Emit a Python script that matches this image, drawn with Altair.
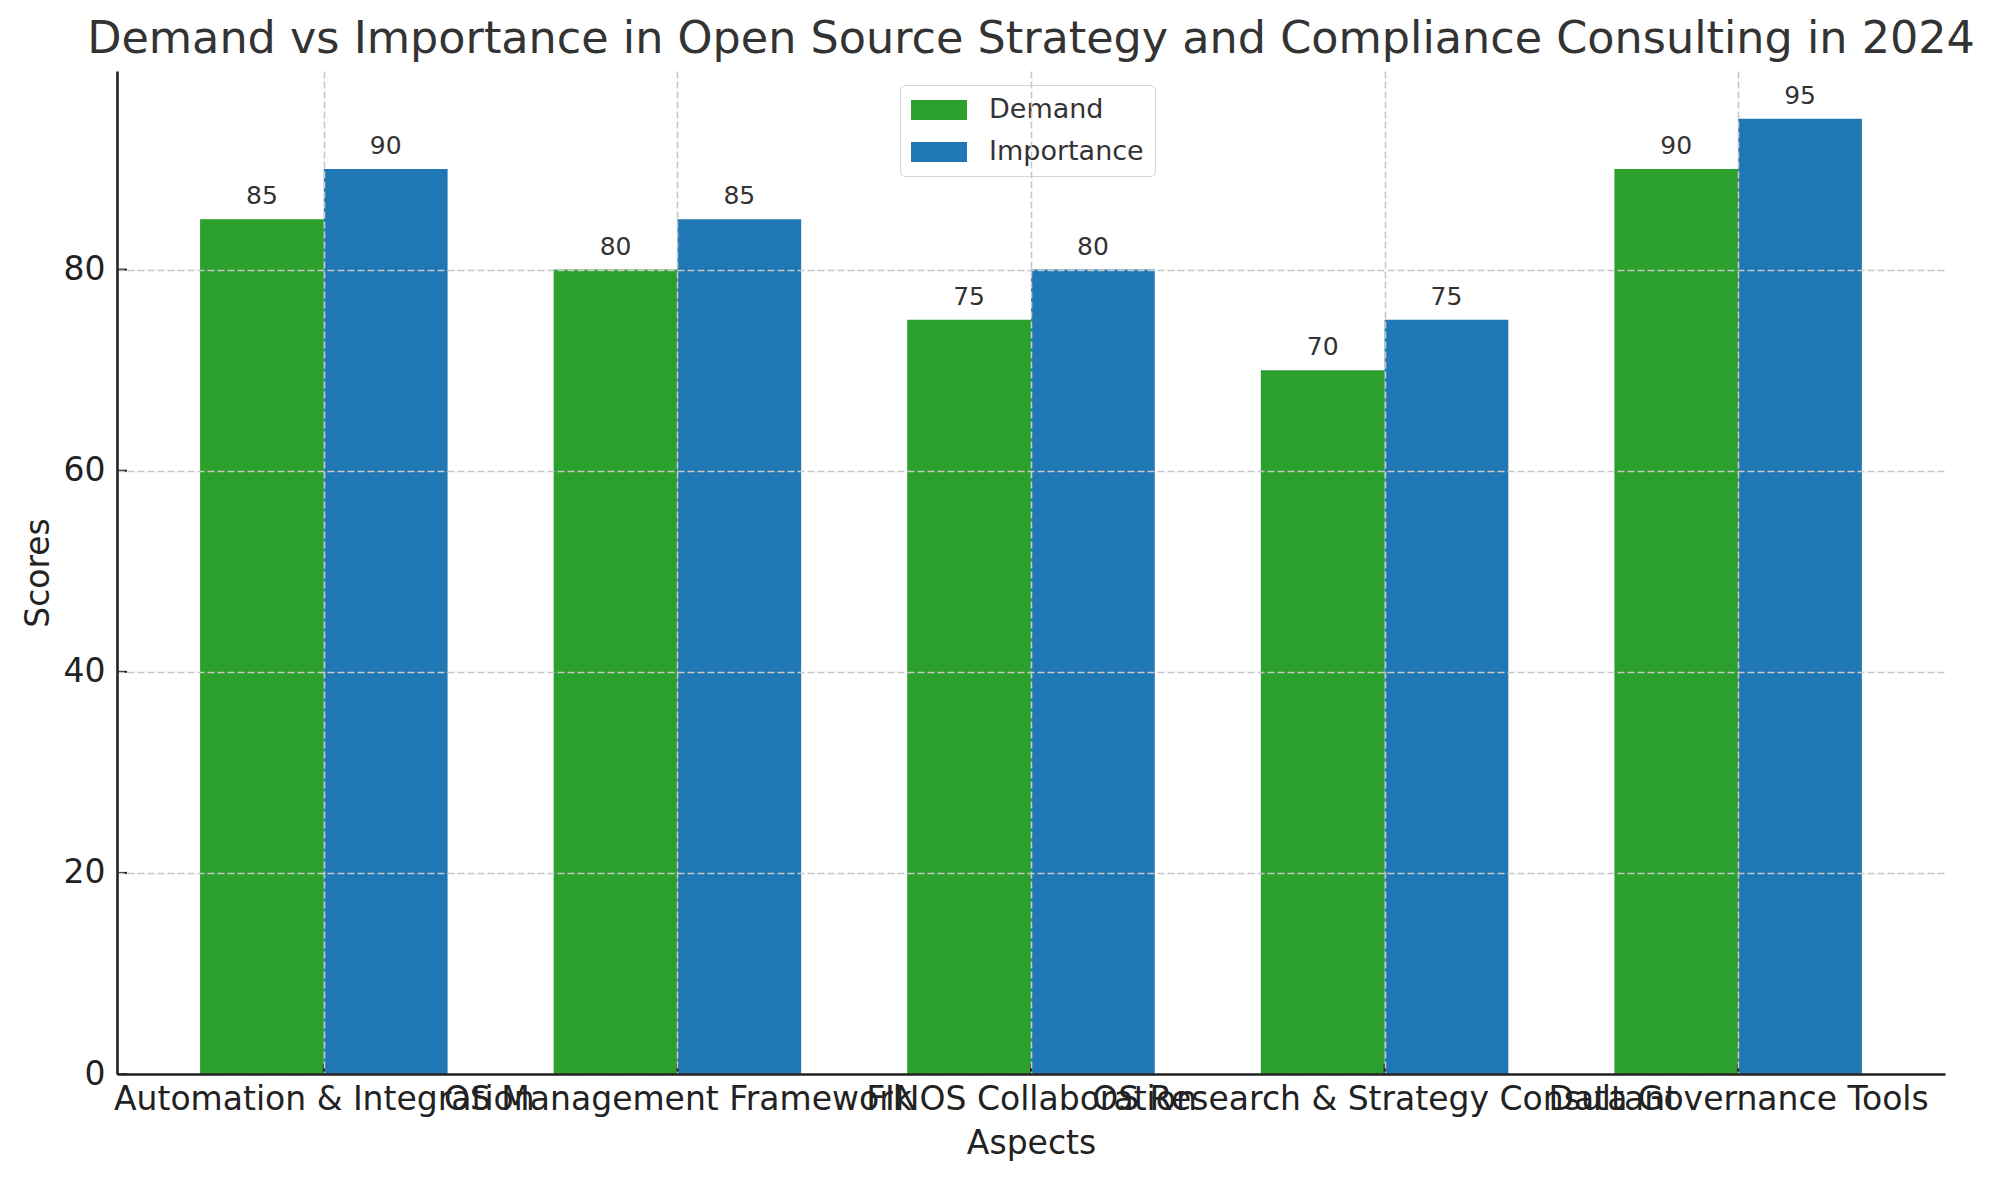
import json
import pandas as pd
import altair as alt

categories = [
    "Automation & Integration",
    "OS Management Framework",
    "FINOS Collaboration",
    "OS Research & Strategy Consultant",
    "Data Governance Tools",
]
demand = [85, 80, 75, 70, 90]
importance = [90, 85, 80, 75, 95]
series = ["Demand", "Importance"]
colors = ["#2ca02c", "#1f77b4"]
y_ticks = [0, 20, 40, 60, 80]

BAR_W = 0.35
W, H = 1828, 1003


def build_rows():
    rows = []
    for i, cat in enumerate(categories):
        for name, vals, shift in [("Demand", demand, -1), ("Importance", importance, 0)]:
            left = i + shift * BAR_W
            rows.append({
                "aspect": cat,
                "series": name,
                "value": vals[i],
                "left": left,
                "right": left + BAR_W,
                "center": left + BAR_W / 2,
            })
    return pd.DataFrame(rows)


df = build_rows()
label_expr = json.dumps(categories) + "[datum.value]"

x_scale = alt.Scale(domain=[-0.585, 4.585], nice=False, zero=False)
y_scale = alt.Scale(domain=[0, 99.75], nice=False)

x_axis = alt.Axis(
    values=list(range(len(categories))), labelExpr=label_expr, title="Aspects",
    ticks=False, tickSize=0, labelPadding=35, labelBaseline="alphabetic",
    labelFontSize=33, labelColor="#222222", labelOverlap=False, labelFlush=False,
    labelLimit=2000,
    titleFontSize=33, titleColor="#222222", titleFontWeight="normal",
    titleX=W / 2, titleY=79, titleBaseline="alphabetic", titleAnchor="middle",
    grid=True, gridDash=[7, 3], gridColor="#c8c8c8", gridWidth=1.6,
    domainColor="#222222", domainWidth=2.6, zindex=1,
)
y_axis = alt.Axis(
    values=y_ticks, title="Scores", ticks=False, tickSize=0, labelPadding=12,
    labelFontSize=33, labelColor="#222222",
    titleFontSize=33, titleColor="#222222", titleFontWeight="normal",
    titleAngle=270, titleX=-69, titleY=H / 2, titleBaseline="alphabetic", titleAlign="center",
    grid=True, gridDash=[7, 3], gridColor="#c8c8c8", gridWidth=1.6,
    domainColor="#222222", domainWidth=2.6, zindex=1,
)

bars = alt.Chart(df).mark_bar(opacity=1).encode(
    x=alt.X("left:Q", scale=x_scale, axis=x_axis),
    x2="right:Q",
    y=alt.Y("value:Q", scale=y_scale, axis=y_axis),
    y2=alt.datum(0),
    color=alt.Color(
        "series:N",
        scale=alt.Scale(domain=series, range=colors),
        legend=alt.Legend(
            title=None, orient="none", legendX=783, legendY=14,
            padding=11, strokeColor="#d6d6d6", fillColor="white", cornerRadius=5,
            labelFontSize=27, labelColor="#333333", labelOffset=36,
            symbolType="M-2,-0.714L2,-0.714L2,0.714L-2,0.714Z", symbolSize=784,
            symbolOffset=14, symbolStrokeWidth=0, symbolOpacity=1, rowPadding=15,
        ),
    ),
)

labels = alt.Chart(df).mark_text(
    baseline="alphabetic", dy=-15, fontSize=25, color="#333333"
).encode(
    x=alt.X("center:Q", scale=x_scale),
    y=alt.Y("value:Q", scale=y_scale),
    text="value:Q",
)

x_tick_df = pd.DataFrame({"pos": list(range(len(categories)))})
y_tick_df = pd.DataFrame({"pos": y_ticks})

x_ticks = alt.Chart(x_tick_df).mark_rule(color="#222222", strokeWidth=2).encode(
    x=alt.X("pos:Q", scale=x_scale),
    y=alt.value(H),
    y2=alt.value(H - 10),
)
y_ticks_layer = alt.Chart(y_tick_df).mark_rule(color="#222222", strokeWidth=2).encode(
    y=alt.Y("pos:Q", scale=y_scale),
    x=alt.value(0),
    x2=alt.value(10),
)

chart = alt.layer(bars, labels, x_ticks, y_ticks_layer).properties(
    width=W,
    height=H,
    autosize=alt.AutoSizeParams(type="none"),
    padding={"left": 109, "top": 63, "right": 40, "bottom": 99},
    title=alt.TitleParams(
        "Demand vs Importance in Open Source Strategy and Compliance Consulting in 2024",
        fontSize=44.5, fontWeight="normal", color="#333333", anchor="middle",
        baseline="alphabetic", offset=16, dy=42,
    ),
).configure(
    font="DejaVu Sans",
).configure_view(
    stroke=None,
)

chart.save("out.html", embed_options={"renderer": "svg", "actions": False})
